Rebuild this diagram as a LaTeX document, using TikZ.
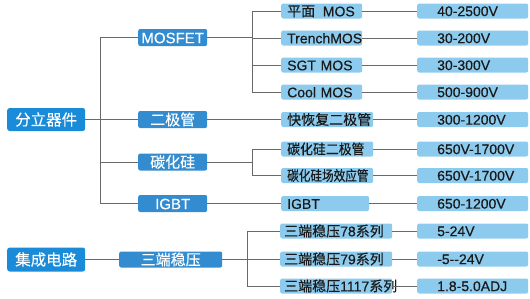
\documentclass[tikz,border=0pt]{standalone}
\usepackage{fontspec}
\setmainfont{Liberation Sans}[FakeBold=0.4]
\newfontfamily\cjk{Noto Sans CJK SC}[FakeBold=0.3]
\usetikzlibrary{positioning}
\definecolor{topblue}{RGB}{25, 139, 216}
\definecolor{midblue}{RGB}{50, 140, 207}
\definecolor{light}{RGB}{141, 203, 238}
\definecolor{wire}{RGB}{105, 105, 105}

\tikzset{
  topbox/.style={fill=topblue, text=white, rounded corners=2.5pt, anchor=west,
    minimum width=78, minimum height=23, inner sep=0pt,
    text height=11.8pt, text depth=0pt, font=\fontsize{15.5}{16}\selectfont},
  midbox/.style={fill=midblue, text=white, rounded corners=2pt, anchor=west,
    minimum width=69, minimum height=17, inner sep=0pt,
    text height=11.4pt, text depth=0pt, font=\fontsize{15}{16}\selectfont},
  leaf/.style={fill=light, text=black!90, rounded corners=2pt, anchor=west,
    text width=#1, align=left, inner xsep=6pt, inner ysep=0pt, minimum height=15,
    text height=10.6pt, text depth=0pt, font=\fontsize{14}{15}\selectfont},
  val/.style={fill=light, text=black!90, rounded corners=2pt, anchor=west,
    text width=91pt, align=left, inner xsep=10pt, inner ysep=0pt, minimum height=15,
    text height=10.2pt, text depth=0pt, font=\fontsize{14}{15}\selectfont,
    execute at begin node=\hspace*{10pt}},
  wire/.style={draw=wire, line width=0.8pt}
}

\begin{document}
\begin{tikzpicture}[x=1pt, y=-1pt]
  \useasboundingbox (0, 0) rectangle (530, 298);

  % top level
  \node[topbox] (fl) at (7, 119.5) {\cjk 分立器件};
  \node[topbox, minimum height=24] (ic) at (7, 259.5) {\cjk 集成电路};

  % second level
  \node[midbox] (mos) at (138, 37.5) {MOSFET};
  \node[midbox] (diode) at (138, 119.5) {\cjk 二极管};
  \node[midbox] (sic) at (138, 162) {\cjk 碳化硅};
  \node[midbox] (igbt) at (138, 203.5) {IGBT};
  \node[midbox, minimum width=103, minimum height=16] (reg) at (119, 259.5) {\cjk 三端稳压};

  % devices
  \node[leaf=69pt] (p1) at (281, 11) {{\cjk 平面}\hspace{3pt} MOS};
  \node[leaf=69pt] (p2) at (281, 38) {TrenchMOS};
  \node[leaf=69pt] (p3) at (281, 65) {SGT MOS};
  \node[leaf=69pt] (p4) at (281, 92) {Cool MOS};
  \node[leaf=80pt] (d1) at (281, 119.5) {\cjk 快恢复二极管};
  \node[leaf=80pt] (s1) at (281, 149) {\scalebox{0.92}[1]{\cjk 碳化硅二极管}};
  \node[leaf=80pt] (s2) at (281, 175.5) {\scalebox{0.83}[1]{\cjk 碳化硅场效应管}};
  \node[leaf=76pt] (g1) at (281, 203.5) {IGBT};
  \node[leaf=100pt, inner xsep=4pt, text width=104pt] (r1) at (280, 231) {{\cjk 三端稳压}78{\cjk 系列}};
  \node[leaf=100pt, inner xsep=4pt, text width=104pt] (r2) at (280, 259) {{\cjk 三端稳压}79{\cjk 系列}};
  \node[leaf=100pt, inner xsep=4pt, text width=104pt] (r3) at (280, 286) {{\cjk 三端稳压}1117{\cjk 系列}};

  % ratings
  \coordinate (vx) at (417, 0);
  \foreach \a/\t in {p1/40-2500V, p2/30-200V, p3/30-300V, p4/500-900V,
      d1/300-1200V, s1/650V-1700V, s2/650V-1700V, g1/650-1200V,
      r1/5-24V, r2/{-5-{}-24V}, r3/1.8-5.0ADJ} {
    \node[val] (v\a) at (\a.west -| vx) {\t};
    \draw[wire] (\a.east) -- (v\a.west);
  };

  % discrete trunk
  \coordinate (jd) at ([xshift=15] fl.east);
  \draw[wire] (fl.east) -- (jd);
  \foreach \n in {mos, diode, sic, igbt} {
    \draw[wire] (jd) |- (\n.west);
  };

  % 1
  \coordinate (jm) at ([xshift=45] mos.east);
  \draw[wire] (mos.east) -- (jm);
  \foreach \n in {p1, p2, p3, p4} {
    \draw[wire] (jm) |- (\n.west);
  };

  % 2
  \draw[wire] (diode.east) -- (d1.west);

  % 3
  \coordinate (js) at ([xshift=45] sic.east);
  \draw[wire] (sic.east) -- (js);
  \foreach \n in {s1, s2} {
    \draw[wire] (js) |- (\n.west);
  };

  % 4
  \draw[wire] (igbt.east) -- (g1.west);

  % 5
  \draw[wire] (ic.east) -- (reg.west);
  \coordinate (jr) at ([xshift=25] reg.east);
  \draw[wire] (reg.east) -- (jr);
  \foreach \n in {r1, r2, r3} {
    \draw[wire] (jr) |- (\n.west);
  };

\end{tikzpicture}
\end{document}
